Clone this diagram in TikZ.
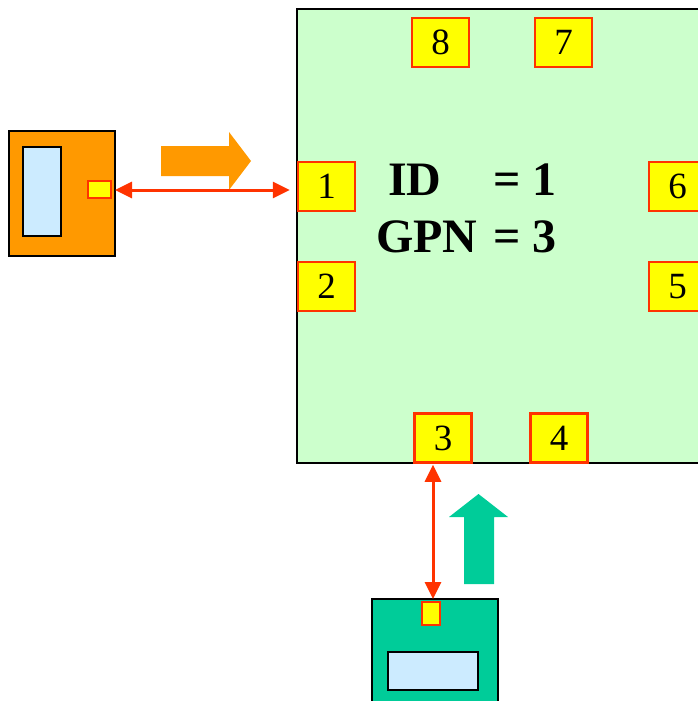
\documentclass[tikz,border=0pt]{standalone}
\usepackage{fontspec}
\setmainfont{Liberation Serif}
\usetikzlibrary{arrows.meta}
\definecolor{boardgreen}{HTML}{CCFFCC}
\definecolor{pinyellow}{HTML}{FFFF00}
\definecolor{pinred}{HTML}{FF3300}
\definecolor{devorange}{HTML}{FF9900}
\definecolor{devgreen}{HTML}{00CC99}
\definecolor{screenblue}{HTML}{CCEBFF}
\tikzset{
  pin/.style={draw=pinred, line width=2.5pt, fill=pinyellow, minimum width=57pt, minimum height=49pt, inner sep=0pt, font=\fontsize{37}{37}\selectfont},
  box/.style={draw=black, line width=2pt},
  link/.style={draw=pinred, line width=3pt, {Triangle[length=17pt,width=16pt]}-{Triangle[length=17pt,width=16pt]}},
  big/.style={font=\fontsize{48}{48}\selectfont\bfseries, inner sep=0pt, anchor=base west}
}
\begin{document}
\begin{tikzpicture}[x=1pt,y=-1pt]
\useasboundingbox (0,0) rectangle (698,701);
\clip (0,0) rectangle (698,701);
% main board
\draw[box, fill=boardgreen] (297,9) rectangle (780,463);
\node[pin] (p8) at (440.5,42.5) {8};
\node[pin] (p7) at (563.5,42.5) {7};
\node[pin] (p1) at (326.5,186.5) {1};
\node[pin] (p2) at (326.5,286.5) {2};
\node[pin] (p6) at (677.5,186.5) {6};
\node[pin] (p5) at (677.5,286.5) {5};
\node[pin] (p3) at (443,438) {3};
\node[pin] (p4) at (559,438) {4};
\node[big] (id) at (388,195) {ID};
\node[big] (idv) at (493,195) {= 1};
\node[big] (gpn) at (376,252) {GPN};
\node[big] (gpnv) at (493,252) {= 3};
% left device
\draw[box, fill=devorange] (9,131) rectangle (115,256);
\draw[box, fill=screenblue] (23,147) rectangle (61,236);
\draw[draw=pinred, line width=2pt, fill=pinyellow] (88,181) rectangle (111,198);
\coordinate (lpin) at (111,190);
% bottom device
\draw[box, fill=devgreen] (372,599) rectangle (498,720);
\draw[box, fill=screenblue] (388,652) rectangle (478,690);
\draw[draw=pinred, line width=2pt, fill=pinyellow] (422,602) rectangle (440,625);
\coordinate (bpin) at (433,599);
% block arrows
\fill[devorange] (161,146) -- (229,146) -- (229,132) -- (251,161) -- (229,190) -- (229,176) -- (161,176) -- cycle;
\fill[devgreen] (464,584) -- (464,517) -- (449,517) -- (478.5,494) -- (508,517) -- (494,517) -- (494,584) -- cycle;
% links
\draw[link, shorten <=4pt, shorten >=7pt] (lpin) -- (lpin -| p1.west);
\draw[link, shorten <=0pt, shorten >=1pt] (bpin) -- (bpin |- p3.south);
\end{tikzpicture}
\end{document}
